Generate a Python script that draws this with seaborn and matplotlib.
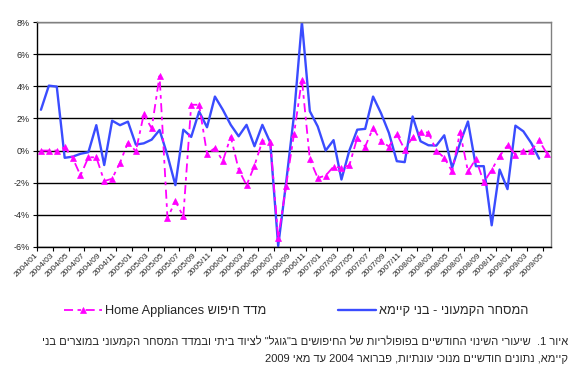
import re
import numpy as np
import pandas as pd
import matplotlib
matplotlib.use('Agg')
import matplotlib.pyplot as plt
import seaborn as sns

# monthly % change, search index (Home Appliances), 2004/01 .. 2009/05
search_index = [0.0, 0.0, 0.0, 0.2, -0.45, -1.55, -0.42, -0.42, -1.9, -1.75,
                -0.75, 0.5, -0.04, 2.25, 1.38, 4.65, -4.2, -3.15, -4.1, 2.85,
                2.85, -0.2, 0.16, -0.66, 0.87, -1.18, -2.16, -0.94, 0.6, 0.55,
                -5.43, -2.18, 1.03, 4.42, -0.54, -1.7, -1.56, -1.0, -1.07, -0.92,
                0.8, 0.25, 1.4, 0.62, 0.25, 1.02, 0.06, 0.82, 1.15, 1.12,
                0.0, -0.45, -1.3, 1.15, -1.3, -0.52, -1.98, -1.2, -0.34, 0.32,
                -0.25, 0.0, 0.0, 0.63, -0.2]

# monthly % change, retail trade - durables, 2004/01 .. 2009/04
retail_durables = [2.54, 4.04, 3.98, -0.45, -0.38, -0.2, -0.1, 1.58, -0.9, 1.86,
                   1.58, 1.8, 0.37, 0.45, 0.68, 1.28, -0.3, -2.15, 1.3, 0.85,
                   2.43, 1.45, 3.36, 2.54, 1.6, 0.89, 1.6, 0.27, 1.6, 0.5,
                   -5.94, -2.0, 2.2, 8.0, 2.45, 1.5, 0.0, 0.65, -1.8, 0.0,
                   1.3, 1.35, 3.36, 2.33, 1.1, -0.66, -0.72, 2.12, 0.58, 0.33,
                   0.31, 0.95, -1.07, 0.47, 1.81, -0.97, -0.97, -4.65, -1.18, -2.4,
                   1.55, 1.2, 0.47, -0.5]

month_labels = ['2004/01', '2004/03', '2004/05', '2004/07', '2004/09', '2004/11',
                '2005/01', '2005/03', '2005/05', '2005/07', '2005/09', '2005/11',
                '2006/01', '2006/03', '2006/05', '2006/07', '2006/09', '2006/11',
                '2007/01', '2007/03', '2007/05', '2007/07', '2007/09', '2007/11',
                '2008/01', '2008/03', '2008/05', '2008/07', '2008/09', '2008/11',
                '2009/01', '2009/03', '2009/05']

y_ticks = [-6, -4, -2, 0, 2, 4, 6, 8]
y_labels = ['-6%', '-4%', '-2%', '0%', '2%', '4%', '6%', '8%']

label_search = 'מדד חיפוש Home Appliances'
label_retail = 'המסחר הקמעוני - בני קיימא'
caption_1 = 'איור 1.  שיעורי השינוי החודשיים בפופולריות של החיפושים ב"גוגל" לציוד ביתי ובמדד המסחר הקמעוני במוצרים בני'
caption_2 = 'קיימא, נתונים חודשיים מנוכי עונתיות, פברואר 2004 עד מאי 2009'


def rtl(text):
    # matplotlib has no bidi support: put Hebrew text in visual order
    runs = re.findall(r'[A-Za-z0-9]+(?:[ ./][A-Za-z0-9]+)*|[^A-Za-z0-9]+', text)
    out = []
    for r in reversed(runs):
        out.append(r if re.match(r'[A-Za-z0-9]', r) else r[::-1])
    return ''.join(out)


sns.set_style('white')
plt.rcParams['font.family'] = ['Liberation Sans', 'DejaVu Sans']

df_search = pd.DataFrame({'month': range(len(search_index)), 'value': search_index})
df_retail = pd.DataFrame({'month': range(len(retail_durables)), 'value': retail_durables})

fig = plt.figure(figsize=(5.74, 3.87), dpi=100)
ax = fig.add_axes([37 / 574, 1 - 247 / 387, (551 - 37) / 574, (247 - 22) / 387])

sns.lineplot(data=df_search, x='month', y='value', ax=ax, color='#ff00ff',
             linewidth=1.3, linestyle=(0, (5, 2.5, 2, 2.5)), marker='^',
             markersize=5, markeredgecolor='#ff00ff', markeredgewidth=0.5,
             label=rtl(label_search), zorder=3)
sns.lineplot(data=df_retail, x='month', y='value', ax=ax, color='#3a4cff',
             linewidth=1.7, label=rtl(label_retail), zorder=2)

ax.set_xlim(-0.5, 64.5)
ax.set_ylim(-6, 8)
ax.set_yticks(y_ticks)
ax.set_yticklabels(y_labels, fontsize=6.5)
ax.set_xticks(np.arange(-0.5, 64, 2))
ax.set_xticklabels(month_labels, rotation=45, ha='right', va='center',
                   rotation_mode='anchor', fontsize=6)
ax.tick_params(axis='both', direction='out', length=3, width=0.8, color='black',
               bottom=True, left=True, pad=2)
ax.set_xlabel('')
ax.set_ylabel('')
ax.set_axisbelow(True)
ax.yaxis.grid(True, color='black', linewidth=1.0)
ax.xaxis.grid(False)
for side in ['top', 'right']:
    ax.spines[side].set_color('#808080')
    ax.spines[side].set_linewidth(1.0)
for side in ['left', 'bottom']:
    ax.spines[side].set_color('black')
    ax.spines[side].set_linewidth(1.0)

ax.legend(loc='center', bbox_to_anchor=(296 / 574, 1 - 311 / 387),
          bbox_transform=fig.transFigure, ncol=2, frameon=False, fontsize=9.2,
          handlelength=3.0, columnspacing=5.6, handletextpad=0.2)

fig.text(568 / 574, 1 - 341 / 387, rtl(caption_1), ha='right', va='center', fontsize=8)
fig.text(568 / 574, 1 - 359 / 387, rtl(caption_2), ha='right', va='center', fontsize=8)

fig.savefig('out.png', dpi=100)
